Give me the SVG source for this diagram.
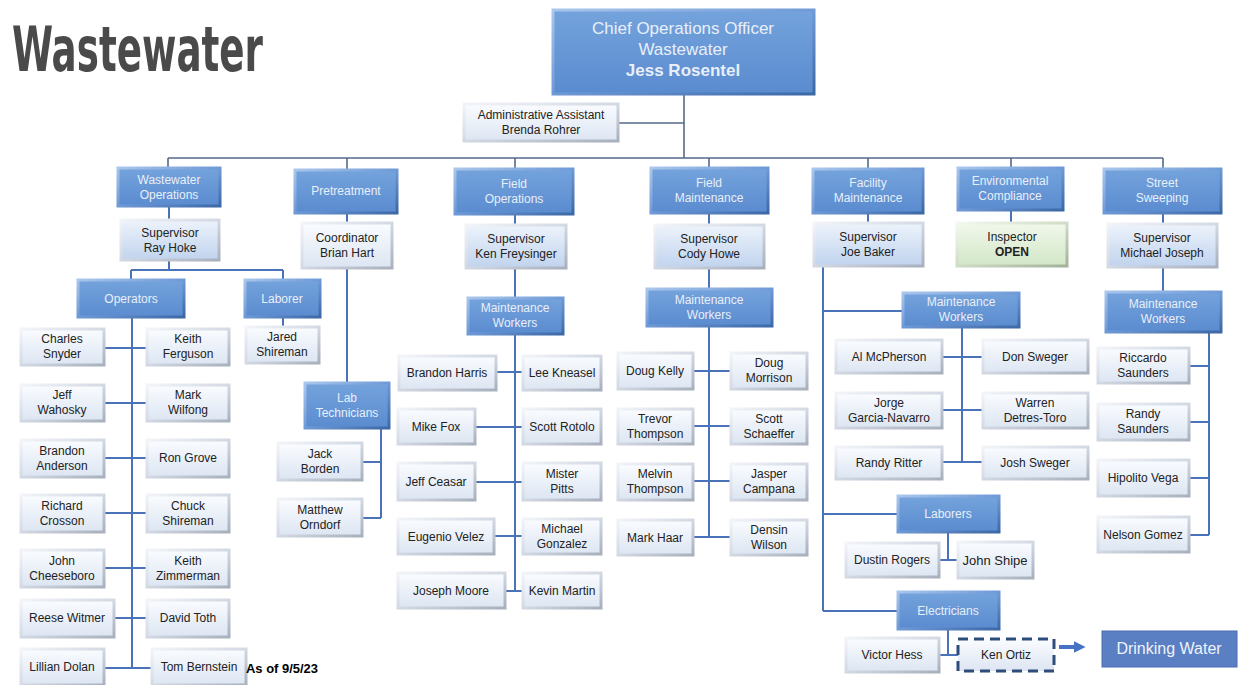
<svg xmlns="http://www.w3.org/2000/svg" width="1238" height="685" viewBox="0 0 1238 685">
<defs>
<linearGradient id="gB" x1="0" y1="0" x2="0" y2="1"><stop offset="0" stop-color="#74a3dc"/><stop offset="1" stop-color="#5a8bcf"/></linearGradient>
<linearGradient id="sB" x1="0" y1="0" x2="1" y2="1"><stop offset="0" stop-color="#a9c6ec"/><stop offset="0.5" stop-color="#6f9ad6"/><stop offset="1" stop-color="#3d68a6"/></linearGradient>
<linearGradient id="gL" x1="0" y1="0" x2="0" y2="1"><stop offset="0" stop-color="#fafcff"/><stop offset="1" stop-color="#dce5f2"/></linearGradient>
<linearGradient id="gS" x1="0" y1="0" x2="0" y2="1"><stop offset="0" stop-color="#edf3fb"/><stop offset="1" stop-color="#c0d3ee"/></linearGradient>
<linearGradient id="sL" x1="0" y1="0" x2="1" y2="1"><stop offset="0" stop-color="#f2f4f8"/><stop offset="0.5" stop-color="#d3d9e3"/><stop offset="1" stop-color="#a8b0bd"/></linearGradient>
<linearGradient id="gG" x1="0" y1="0" x2="0" y2="1"><stop offset="0" stop-color="#f1f8ec"/><stop offset="1" stop-color="#d2e6c6"/></linearGradient>
<linearGradient id="sG" x1="0" y1="0" x2="1" y2="1"><stop offset="0" stop-color="#f4f8f0"/><stop offset="0.5" stop-color="#cfdcc6"/><stop offset="1" stop-color="#a3b29a"/></linearGradient>
<marker id="arr" viewBox="0 0 10 10" refX="2" refY="5" markerWidth="3" markerHeight="3" orient="auto"><path d="M0,0 L10,5 L0,10 z" fill="#4472c4"/></marker>
<style>
.b{fill:url(#gB);stroke:url(#sB);stroke-width:3}
.l{fill:url(#gL);stroke:url(#sL);stroke-width:3}
.s{fill:url(#gS);stroke:url(#sL);stroke-width:3}
.g{fill:url(#gG);stroke:url(#sG);stroke-width:3}
.dw{fill:#5a7fc2;stroke:#4a6fb0;stroke-width:1}
.ko{fill:url(#gL);stroke:#2e4d7c;stroke-width:3;stroke-dasharray:10 6}
text{font-family:"Liberation Sans",Arial,sans-serif;font-size:12px;text-anchor:middle}
.tw{fill:#e8eff9}
.td{fill:#222}
.bold{font-weight:bold}
.top{stroke:#56698c;stroke-width:1.6;fill:none}
.c{stroke:#4a72b8;stroke-width:2;fill:none}
</style>
</defs>
<rect width="1238" height="685" fill="#ffffff"/>
<text x="12" y="71" style="font-family:'DejaVu Sans Condensed','DejaVu Sans',sans-serif;font-weight:bold;font-size:62px;text-anchor:start;fill:#4a4a4a" textLength="251" lengthAdjust="spacingAndGlyphs">Wastewater</text>

<g id="connectors">
<path class="top" d="M684 94V158M618 123H684M168 158H1163M168 158V168M347 158V170M515 158V169M709 158V168M868 158V169M1011 158V168M1163 158V169"/>
<path class="c" d="M169 206V220M347 213V223M169 260V270M131 270H283M131 270V280M283 270V280M283 317V327"/>
<path class="c" d="M132 317V668M104 348H147M104 403H147M104 458H147M104 513H147M104 568H147M114 618H147M104 668H152"/>
<path class="c" d="M347 268V383M381 428V518M362 462H381M362 518H381"/>
<path class="c" d="M515 214V225M515 268V298M515 334V591M496 372H523M475 427H523M475 482H523M494 536H523M505 591H523"/>
<path class="c" d="M709 213V225M709 268V289M709 326V537M693 371H731M693 426H731M693 481H731M693 537H731"/>
<path class="c" d="M868 213V223M823 266V611M823 311H903M962 327V462M942 357H983M942 410H983M942 462H983M823 514H898M948 532V560M939 560H958M823 611H898M948 629V655M939 655H958"/>
<path class="c" d="M1011 210V223"/>
<path class="c" d="M1163 213V224M1163 267V292M1209 332V535M1189 366H1209M1189 422H1209M1189 478H1209M1189 535H1209"/>
<path d="M1059 647H1076" stroke="#4472c4" stroke-width="4" fill="none" marker-end="url(#arr)"/>
</g>

<g id="chief"><rect class="b" x="553" y="10" width="261" height="84"/><text class="tw" x="683" y="34" style="font-size:17px">Chief Operations Officer</text><text class="tw" x="683" y="55" style="font-size:17px">Wastewater</text><text class="tw bold" x="683" y="76" style="font-size:17px">Jess Rosentel</text></g>
<g id="admin"><rect class="l" x="464" y="104" width="154" height="37"/><text class="td" x="541" y="119">Administrative Assistant</text><text class="td" x="541" y="134">Brenda Rohrer</text></g>

<g id="ww-ops"><rect class="b" x="118" y="168" width="102" height="38"/><text class="tw" x="169" y="184">Wastewater</text><text class="tw" x="169" y="199">Operations</text></g>
<g id="pretreatment"><rect class="b" x="295" y="170" width="102" height="43"/><text class="tw" x="346" y="195">Pretreatment</text></g>
<g id="ray-hoke"><rect class="s" x="121" y="220" width="98" height="40"/><text class="td" x="170" y="237">Supervisor</text><text class="td" x="170" y="252">Ray Hoke</text></g>
<g id="brian-hart"><rect class="l" x="302" y="223" width="90" height="45"/><text class="td" x="347" y="242">Coordinator</text><text class="td" x="347" y="257">Brian Hart</text></g>
<g id="operators"><rect class="b" x="78" y="280" width="106" height="37"/><text class="tw" x="131" y="303">Operators</text></g>
<g id="laborer"><rect class="b" x="245" y="280" width="75" height="37"/><text class="tw" x="282" y="303">Laborer</text></g>
<g id="jared"><rect class="l" x="246" y="327" width="73" height="36"/><text class="td" x="282" y="341">Jared</text><text class="td" x="282" y="356">Shireman</text></g>

<g id="charles"><rect class="l" x="21" y="329" width="83" height="36"/><text class="td" x="62" y="343">Charles</text><text class="td" x="62" y="358">Snyder</text></g>
<g id="keith-f"><rect class="l" x="147" y="329" width="82" height="36"/><text class="td" x="188" y="343">Keith</text><text class="td" x="188" y="358">Ferguson</text></g>
<g id="jeff-w"><rect class="l" x="21" y="385" width="83" height="36"/><text class="td" x="62" y="399">Jeff</text><text class="td" x="62" y="414">Wahosky</text></g>
<g id="mark-w"><rect class="l" x="147" y="385" width="82" height="36"/><text class="td" x="188" y="399">Mark</text><text class="td" x="188" y="414">Wilfong</text></g>
<g id="brandon-a"><rect class="l" x="21" y="440" width="83" height="37"/><text class="td" x="62" y="455">Brandon</text><text class="td" x="62" y="470">Anderson</text></g>
<g id="ron"><rect class="l" x="147" y="440" width="82" height="37"/><text class="td" x="188" y="462">Ron Grove</text></g>
<g id="richard"><rect class="l" x="21" y="495" width="83" height="37"/><text class="td" x="62" y="510">Richard</text><text class="td" x="62" y="525">Crosson</text></g>
<g id="chuck"><rect class="l" x="147" y="495" width="82" height="37"/><text class="td" x="188" y="510">Chuck</text><text class="td" x="188" y="525">Shireman</text></g>
<g id="john-c"><rect class="l" x="21" y="550" width="83" height="37"/><text class="td" x="62" y="565">John</text><text class="td" x="62" y="580">Cheeseboro</text></g>
<g id="keith-z"><rect class="l" x="147" y="550" width="82" height="37"/><text class="td" x="188" y="565">Keith</text><text class="td" x="188" y="580">Zimmerman</text></g>
<g id="reese"><rect class="l" x="21" y="600" width="93" height="37"/><text class="td" x="67" y="622">Reese Witmer</text></g>
<g id="david"><rect class="l" x="147" y="600" width="82" height="37"/><text class="td" x="188" y="622">David Toth</text></g>
<g id="lillian"><rect class="l" x="21" y="649" width="83" height="36"/><text class="td" x="62" y="671">Lillian Dolan</text></g>
<g id="tom"><rect class="l" x="152" y="649" width="94" height="36"/><text class="td" x="199" y="671">Tom Bernstein</text></g>
<text x="246" y="673" style="font-weight:bold;font-size:13px;text-anchor:start;fill:#000" textLength="72" lengthAdjust="spacingAndGlyphs">As of 9/5/23</text>

<g id="lab"><rect class="b" x="305" y="383" width="84" height="45"/><text class="tw" x="347" y="402">Lab</text><text class="tw" x="347" y="417">Technicians</text></g>
<g id="jack"><rect class="l" x="278" y="443" width="84" height="37"/><text class="td" x="320" y="458">Jack</text><text class="td" x="320" y="473">Borden</text></g>
<g id="matthew"><rect class="l" x="278" y="499" width="84" height="37"/><text class="td" x="320" y="514">Matthew</text><text class="td" x="320" y="529">Orndorf</text></g>

<g id="field-ops"><rect class="b" x="455" y="169" width="118" height="45"/><text class="tw" x="514" y="188">Field</text><text class="tw" x="514" y="203">Operations</text></g>
<g id="ken-f"><rect class="s" x="466" y="225" width="100" height="43"/><text class="td" x="516" y="243">Supervisor</text><text class="td" x="516" y="258">Ken Freysinger</text></g>
<g id="mw-fo"><rect class="b" x="468" y="298" width="95" height="36"/><text class="tw" x="515" y="312">Maintenance</text><text class="tw" x="515" y="327">Workers</text></g>
<g id="brandon-h"><rect class="l" x="399" y="356" width="97" height="34"/><text class="td" x="447" y="377">Brandon Harris</text></g>
<g id="lee"><rect class="l" x="523" y="356" width="78" height="34"/><text class="td" x="562" y="377">Lee  Kneasel</text></g>
<g id="mike"><rect class="l" x="398" y="409" width="77" height="35"/><text class="td" x="436" y="431">Mike Fox</text></g>
<g id="scott-r"><rect class="l" x="523" y="409" width="78" height="35"/><text class="td" x="562" y="431">Scott Rotolo</text></g>
<g id="jeff-c"><rect class="l" x="398" y="463" width="77" height="37"/><text class="td" x="436" y="486">Jeff Ceasar</text></g>
<g id="mister"><rect class="l" x="523" y="463" width="78" height="37"/><text class="td" x="562" y="478">Mister</text><text class="td" x="562" y="493">Pitts</text></g>
<g id="eugenio"><rect class="l" x="398" y="519" width="96" height="35"/><text class="td" x="446" y="541">Eugenio Velez</text></g>
<g id="michael-g"><rect class="l" x="523" y="519" width="78" height="35"/><text class="td" x="562" y="533">Michael</text><text class="td" x="562" y="548">Gonzalez</text></g>
<g id="joseph"><rect class="l" x="398" y="573" width="107" height="35"/><text class="td" x="451" y="595">Joseph Moore</text></g>
<g id="kevin"><rect class="l" x="523" y="573" width="78" height="35"/><text class="td" x="562" y="595">Kevin Martin</text></g>

<g id="field-maint"><rect class="b" x="651" y="168" width="117" height="45"/><text class="tw" x="709" y="187">Field</text><text class="tw" x="709" y="202">Maintenance</text></g>
<g id="cody"><rect class="s" x="655" y="225" width="109" height="43"/><text class="td" x="709" y="243">Supervisor</text><text class="td" x="709" y="258">Cody Howe</text></g>
<g id="mw-fm"><rect class="b" x="647" y="289" width="125" height="37"/><text class="tw" x="709" y="304">Maintenance</text><text class="tw" x="709" y="319">Workers</text></g>
<g id="doug-k"><rect class="l" x="618" y="353" width="75" height="36"/><text class="td" x="655" y="375">Doug Kelly</text></g>
<g id="doug-m"><rect class="l" x="731" y="353" width="76" height="36"/><text class="td" x="769" y="367">Doug</text><text class="td" x="769" y="382">Morrison</text></g>
<g id="trevor"><rect class="l" x="618" y="409" width="75" height="35"/><text class="td" x="655" y="423">Trevor</text><text class="td" x="655" y="438">Thompson</text></g>
<g id="scott-s"><rect class="l" x="731" y="409" width="76" height="35"/><text class="td" x="769" y="423">Scott</text><text class="td" x="769" y="438">Schaeffer</text></g>
<g id="melvin"><rect class="l" x="618" y="464" width="75" height="36"/><text class="td" x="655" y="478">Melvin</text><text class="td" x="655" y="493">Thompson</text></g>
<g id="jasper"><rect class="l" x="731" y="464" width="76" height="36"/><text class="td" x="769" y="478">Jasper</text><text class="td" x="769" y="493">Campana</text></g>
<g id="mark-h"><rect class="l" x="618" y="520" width="75" height="35"/><text class="td" x="655" y="542">Mark Haar</text></g>
<g id="densin"><rect class="l" x="731" y="520" width="76" height="35"/><text class="td" x="769" y="534">Densin</text><text class="td" x="769" y="549">Wilson</text></g>

<g id="facility"><rect class="b" x="813" y="169" width="110" height="44"/><text class="tw" x="868" y="187">Facility</text><text class="tw" x="868" y="202">Maintenance</text></g>
<g id="joe"><rect class="s" x="814" y="223" width="109" height="43"/><text class="td" x="868" y="241">Supervisor</text><text class="td" x="868" y="256">Joe Baker</text></g>
<g id="mw-fac"><rect class="b" x="903" y="293" width="116" height="34"/><text class="tw" x="961" y="306">Maintenance</text><text class="tw" x="961" y="321">Workers</text></g>
<g id="al"><rect class="l" x="836" y="340" width="106" height="33"/><text class="td" x="889" y="361">Al McPherson</text></g>
<g id="don"><rect class="l" x="983" y="340" width="105" height="33"/><text class="td" x="1035" y="361">Don Sweger</text></g>
<g id="jorge"><rect class="l" x="836" y="393" width="106" height="35"/><text class="td" x="889" y="407">Jorge</text><text class="td" x="889" y="422">Garcia-Navarro</text></g>
<g id="warren"><rect class="l" x="983" y="393" width="105" height="35"/><text class="td" x="1035" y="407">Warren</text><text class="td" x="1035" y="422">Detres-Toro</text></g>
<g id="randy-r"><rect class="l" x="836" y="447" width="106" height="32"/><text class="td" x="889" y="467">Randy Ritter</text></g>
<g id="josh"><rect class="l" x="983" y="447" width="105" height="32"/><text class="td" x="1035" y="467">Josh Sweger</text></g>
<g id="laborers"><rect class="b" x="898" y="496" width="101" height="36"/><text class="tw" x="948" y="518">Laborers</text></g>
<g id="dustin"><rect class="l" x="846" y="543" width="93" height="34"/><text class="td" x="892" y="564">Dustin Rogers</text></g>
<g id="john-s"><rect class="l" x="958" y="542" width="75" height="36"/><text class="td" x="995" y="565" style="font-size:13px">John Shipe</text></g>
<g id="electricians"><rect class="b" x="898" y="592" width="101" height="37"/><text class="tw" x="948" y="615">Electricians</text></g>
<g id="victor"><rect class="l" x="846" y="638" width="93" height="34"/><text class="td" x="892" y="659">Victor Hess</text></g>
<g id="ken-o"><rect class="ko" x="958" y="639" width="96" height="32"/><text class="td" x="1006" y="659">Ken  Ortiz</text></g>
<g id="drinking"><rect class="dw" x="1102" y="631" width="135" height="36"/><text x="1169" y="654" style="font-size:16px;fill:#eef3fb">Drinking Water</text></g>

<g id="env"><rect class="b" x="958" y="168" width="105" height="42"/><text class="tw" x="1010" y="185">Environmental</text><text class="tw" x="1010" y="200">Compliance</text></g>
<g id="inspector"><rect class="g" x="957" y="223" width="110" height="43"/><text class="td" x="1012" y="241">Inspector</text><text class="td bold" x="1012" y="256">OPEN</text></g>

<g id="street"><rect class="b" x="1104" y="169" width="117" height="44"/><text class="tw" x="1162" y="187">Street</text><text class="tw" x="1162" y="202">Sweeping</text></g>
<g id="michael-j"><rect class="s" x="1108" y="224" width="109" height="43"/><text class="td" x="1162" y="242">Supervisor</text><text class="td" x="1162" y="257">Michael Joseph</text></g>
<g id="mw-ss"><rect class="b" x="1106" y="292" width="115" height="40"/><text class="tw" x="1163" y="308">Maintenance</text><text class="tw" x="1163" y="323">Workers</text></g>
<g id="riccardo"><rect class="l" x="1098" y="348" width="91" height="35"/><text class="td" x="1143" y="362">Riccardo</text><text class="td" x="1143" y="377">Saunders</text></g>
<g id="randy-s"><rect class="l" x="1098" y="404" width="91" height="36"/><text class="td" x="1143" y="418">Randy</text><text class="td" x="1143" y="433">Saunders</text></g>
<g id="hipolito"><rect class="l" x="1098" y="460" width="91" height="36"/><text class="td" x="1143" y="482">Hipolito Vega</text></g>
<g id="nelson"><rect class="l" x="1098" y="517" width="91" height="35"/><text class="td" x="1143" y="539">Nelson Gomez</text></g>
</svg>
